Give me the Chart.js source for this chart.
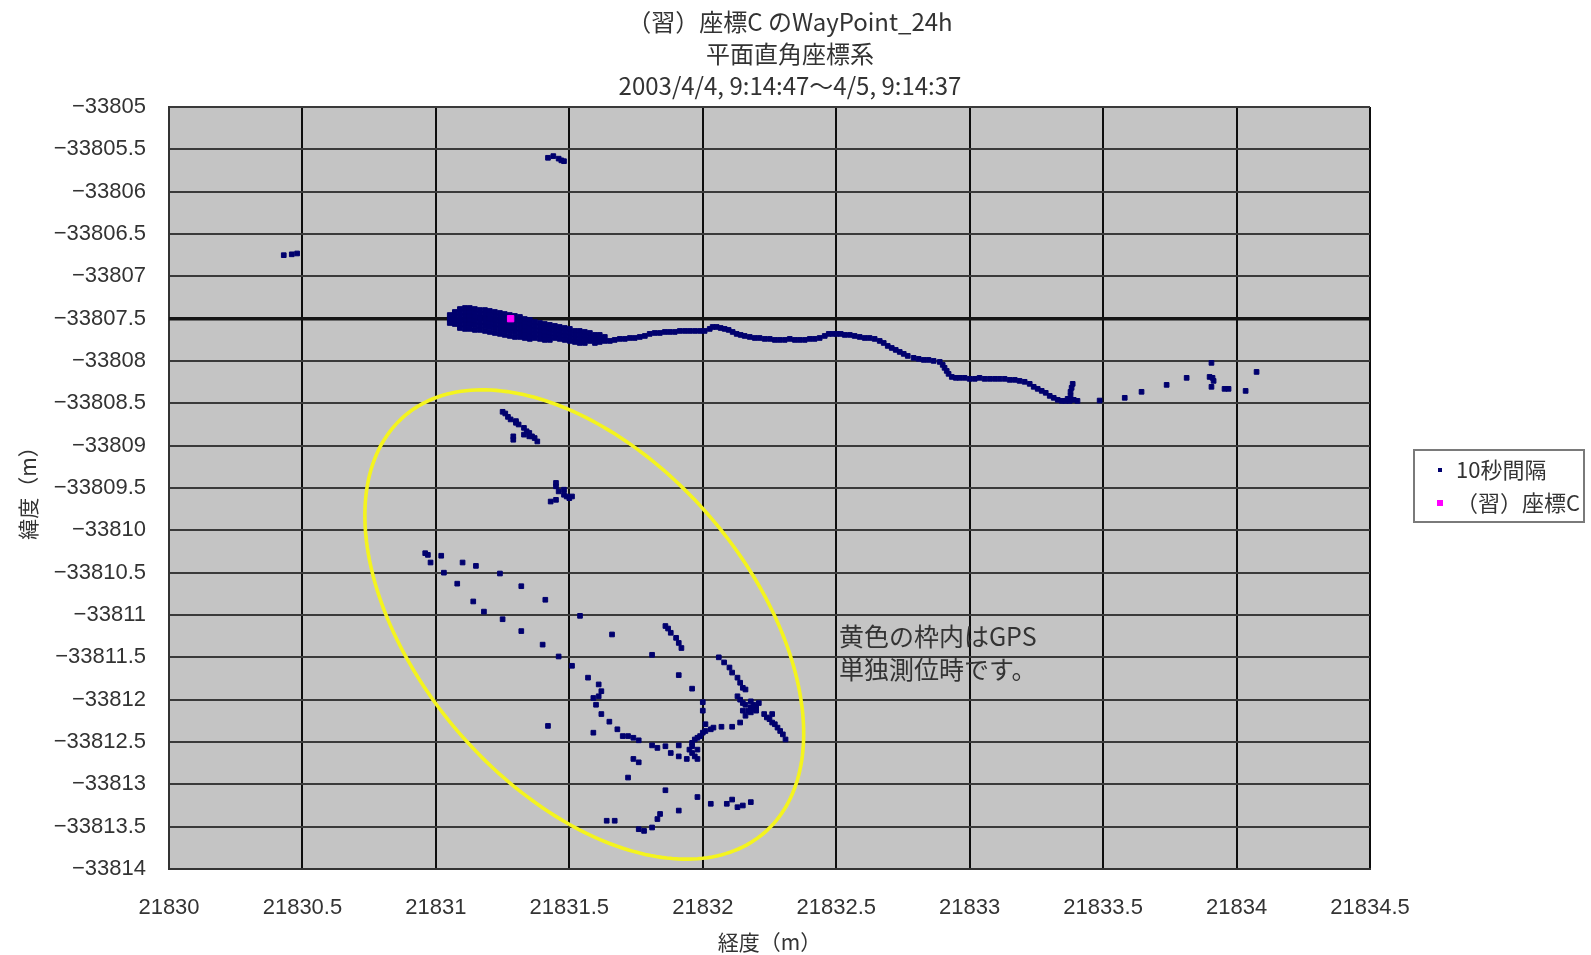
<!DOCTYPE html>
<html lang="ja">
<head>
<meta charset="utf-8">
<title>（習）座標C のWayPoint_24h</title>
<script src="https://cdn.jsdelivr.net/npm/chart.js@4.4.1/dist/chart.umd.min.js"></script>
<style>
  html, body { margin: 0; padding: 0; background: #ffffff; }
  canvas { display: block; }
</style>
</head>
<body>
<canvas id="wp" width="1591" height="955"></canvas>
<script>
// ---- chart text ----
const titleLines = ['（習）座標C のWayPoint_24h', '平面直角座標系', '2003/4/4, 9:14:47～4/5, 9:14:37'];
const xAxisTitle = '経度（m）';
const yAxisTitle = '緯度（m）';
const trackLabel = '10秒間隔';
const pointLabel = '（習）座標C';
const noteLines = ['黄色の枠内はGPS', '単独測位時です。'];

// ---- tick values ----
const xTickValues = [21830, 21830.5, 21831, 21831.5, 21832, 21832.5, 21833, 21833.5, 21834, 21834.5];
const yTickValues = [-33805, -33805.5, -33806, -33806.5, -33807, -33807.5, -33808, -33808.5, -33809, -33809.5,
  -33810, -33810.5, -33811, -33811.5, -33812, -33812.5, -33813, -33813.5, -33814];

// ---- surveyed point (習)座標C and its northing line ----
const controlPoint = [21831.28, -33807.50];
const referenceNorthing = -33807.5;

// ---- 10 s fixes: dense cluster around the control point ----
const clusterFixes = [
  [21831.052,-33807.457],[21831.052,-33807.504],[21831.052,-33807.551],
  [21831.071,-33807.421],[21831.071,-33807.468],[21831.071,-33807.515],[21831.071,-33807.563],
  [21831.090,-33807.386],[21831.090,-33807.433],[21831.090,-33807.480],[21831.090,-33807.527],[21831.090,-33807.574],[21831.090,-33807.610],
  [21831.109,-33807.374],[21831.109,-33807.421],[21831.109,-33807.468],[21831.109,-33807.515],[21831.109,-33807.563],[21831.109,-33807.621],
  [21831.127,-33807.374],[21831.127,-33807.421],[21831.127,-33807.468],[21831.127,-33807.515],[21831.127,-33807.563],[21831.127,-33807.621],
  [21831.146,-33807.386],[21831.146,-33807.433],[21831.146,-33807.480],[21831.146,-33807.527],[21831.146,-33807.574],[21831.146,-33807.633],
  [21831.165,-33807.398],[21831.165,-33807.445],[21831.165,-33807.492],[21831.165,-33807.539],[21831.165,-33807.586],[21831.165,-33807.633],
  [21831.184,-33807.398],[21831.184,-33807.445],[21831.184,-33807.492],[21831.184,-33807.539],[21831.184,-33807.586],[21831.184,-33807.645],
  [21831.202,-33807.409],[21831.202,-33807.457],[21831.202,-33807.504],[21831.202,-33807.551],[21831.202,-33807.598],[21831.202,-33807.657],
  [21831.221,-33807.421],[21831.221,-33807.468],[21831.221,-33807.515],[21831.221,-33807.563],[21831.221,-33807.610],[21831.221,-33807.669],
  [21831.240,-33807.433],[21831.240,-33807.480],[21831.240,-33807.527],[21831.240,-33807.574],[21831.240,-33807.621],[21831.240,-33807.680],
  [21831.258,-33807.445],[21831.258,-33807.492],[21831.258,-33807.539],[21831.258,-33807.586],[21831.258,-33807.633],[21831.258,-33807.692],
  [21831.277,-33807.457],[21831.277,-33807.504],[21831.277,-33807.551],[21831.277,-33807.598],[21831.277,-33807.645],[21831.277,-33807.704],
  [21831.296,-33807.468],[21831.296,-33807.515],[21831.296,-33807.563],[21831.296,-33807.610],[21831.296,-33807.657],[21831.296,-33807.716],
  [21831.315,-33807.480],[21831.315,-33807.527],[21831.315,-33807.574],[21831.315,-33807.621],[21831.315,-33807.669],[21831.315,-33807.716],
  [21831.333,-33807.504],[21831.333,-33807.551],[21831.333,-33807.598],[21831.333,-33807.645],[21831.333,-33807.692],[21831.333,-33807.728],
  [21831.352,-33807.515],[21831.352,-33807.563],[21831.352,-33807.610],[21831.352,-33807.657],[21831.352,-33807.704],[21831.352,-33807.739],
  [21831.371,-33807.539],[21831.371,-33807.586],[21831.371,-33807.633],[21831.371,-33807.680],[21831.371,-33807.728],
  [21831.390,-33807.551],[21831.390,-33807.598],[21831.390,-33807.645],[21831.390,-33807.692],[21831.390,-33807.739],
  [21831.408,-33807.563],[21831.408,-33807.610],[21831.408,-33807.657],[21831.408,-33807.704],[21831.408,-33807.751],
  [21831.427,-33807.574],[21831.427,-33807.621],[21831.427,-33807.669],[21831.427,-33807.716],[21831.427,-33807.751],
  [21831.446,-33807.586],[21831.446,-33807.633],[21831.446,-33807.680],[21831.446,-33807.728],
  [21831.464,-33807.598],[21831.464,-33807.645],[21831.464,-33807.692],[21831.464,-33807.739],
  [21831.483,-33807.610],[21831.483,-33807.657],[21831.483,-33807.704],[21831.483,-33807.751],
  [21831.502,-33807.621],[21831.502,-33807.669],[21831.502,-33807.716],[21831.502,-33807.763],
  [21831.521,-33807.645],[21831.521,-33807.692],[21831.521,-33807.739],[21831.521,-33807.775],
  [21831.539,-33807.645],[21831.539,-33807.692],[21831.539,-33807.739],[21831.539,-33807.787],
  [21831.558,-33807.657],[21831.558,-33807.704],[21831.558,-33807.751],[21831.558,-33807.787],
  [21831.577,-33807.669],[21831.577,-33807.716],[21831.577,-33807.763],
  [21831.596,-33807.692],[21831.596,-33807.739],[21831.596,-33807.787],
  [21831.614,-33807.692],[21831.614,-33807.739],[21831.614,-33807.775],
  [21831.633,-33807.716],[21831.633,-33807.763]
];

// ---- 10 s fixes: drift eastward after the cluster ----
const driftFixes = [
  [21831.652,-33807.763],[21831.670,-33807.751],[21831.689,-33807.739],[21831.708,-33807.739],[21831.727,-33807.728],
  [21831.745,-33807.728],[21831.764,-33807.716],[21831.783,-33807.704],[21831.801,-33807.680],[21831.820,-33807.669],
  [21831.839,-33807.669],[21831.858,-33807.657],[21831.876,-33807.657],[21831.895,-33807.657],[21831.914,-33807.645],
  [21831.933,-33807.645],[21831.951,-33807.645],[21831.970,-33807.645],[21831.989,-33807.645],[21832.007,-33807.645],
  [21832.026,-33807.621],[21832.037,-33807.598],[21832.052,-33807.598],[21832.067,-33807.610],[21832.082,-33807.621],
  [21832.097,-33807.633],[21832.112,-33807.657],[21832.127,-33807.680],[21832.142,-33807.692],[21832.157,-33807.704],
  [21832.176,-33807.716],[21832.195,-33807.728],[21832.213,-33807.728],[21832.232,-33807.739],[21832.251,-33807.739],
  [21832.270,-33807.751],[21832.288,-33807.751],[21832.307,-33807.751],[21832.326,-33807.739],[21832.345,-33807.751],
  [21832.363,-33807.751],[21832.382,-33807.751],[21832.401,-33807.739],[21832.419,-33807.739],[21832.438,-33807.728],
  [21832.457,-33807.704],[21832.472,-33807.680],[21832.487,-33807.680],[21832.502,-33807.680],[21832.517,-33807.680],
  [21832.532,-33807.692],[21832.551,-33807.692],[21832.569,-33807.704],[21832.588,-33807.716],[21832.607,-33807.728],
  [21832.625,-33807.728],[21832.644,-33807.739],[21832.663,-33807.763],[21832.678,-33807.787],[21832.693,-33807.822],
  [21832.708,-33807.846],[21832.723,-33807.869],[21832.738,-33807.893],[21832.753,-33807.916],[21832.768,-33807.940],
  [21832.790,-33807.963],[21832.809,-33807.975],[21832.828,-33807.987],[21832.846,-33807.987],[21832.865,-33807.999],
  [21832.888,-33808.011],[21832.899,-33808.046],[21832.906,-33808.081],[21832.914,-33808.117],[21832.921,-33808.152],
  [21832.933,-33808.188],[21832.948,-33808.199],[21832.963,-33808.199],[21832.981,-33808.199],[21833.000,-33808.211],
  [21833.019,-33808.211],[21833.037,-33808.199],[21833.056,-33808.211],[21833.075,-33808.211],[21833.094,-33808.211],
  [21833.112,-33808.211],[21833.131,-33808.211],[21833.150,-33808.223],[21833.169,-33808.223],[21833.187,-33808.235],
  [21833.206,-33808.246],[21833.225,-33808.270],[21833.240,-33808.305],[21833.255,-33808.329],[21833.270,-33808.353],
  [21833.285,-33808.376],[21833.300,-33808.412],[21833.315,-33808.435],[21833.330,-33808.459],[21833.345,-33808.471],
  [21833.360,-33808.471],[21833.375,-33808.471],[21833.390,-33808.459],[21833.404,-33808.471],[21833.378,-33808.412],
  [21833.378,-33808.364],[21833.382,-33808.317],[21833.386,-33808.270],[21833.367,-33808.447],
  [21833.487,-33808.467],[21833.581,-33808.435],[21833.644,-33808.364],[21833.738,-33808.282],[21833.813,-33808.199],
  [21833.906,-33808.022],[21833.899,-33808.188],[21833.910,-33808.199],[21833.914,-33808.235],[21833.906,-33808.305],
  [21833.955,-33808.329],[21833.970,-33808.329],[21834.034,-33808.353],[21834.075,-33808.129]
];

// ---- 10 s fixes: isolated points in the upper part ----
const strayFixes = [
  [21831.42,-33805.60],[21831.44,-33805.58],[21831.46,-33805.61],[21831.47,-33805.63],[21831.48,-33805.64],
  [21830.43,-33806.75],[21830.46,-33806.74],[21830.48,-33806.73]
];

// ---- 10 s fixes: stand-alone GPS positioning ----
const standaloneFixes = [
  [21831.25,-33808.60],[21831.26,-33808.62],[21831.27,-33808.66],[21831.28,-33808.69],[21831.30,-33808.71],
  [21831.30,-33808.73],[21831.31,-33808.75],[21831.33,-33808.79],[21831.34,-33808.83],[21831.35,-33808.85],
  [21831.36,-33808.89],[21831.37,-33808.91],[21831.38,-33808.95],[21831.35,-33808.89],[21831.33,-33808.87],
  [21831.29,-33808.89],[21831.29,-33808.93],
  [21831.45,-33809.44],[21831.45,-33809.48],[21831.46,-33809.54],[21831.48,-33809.58],[21831.49,-33809.60],
  [21831.50,-33809.62],[21831.51,-33809.60],[21831.45,-33809.64],[21831.43,-33809.66],[21831.48,-33809.52],
  [21830.96,-33810.27],[21830.97,-33810.29],[21830.98,-33810.38],[21831.02,-33810.30],[21831.03,-33810.50],
  [21831.10,-33810.38],[21831.15,-33810.42],[21831.24,-33810.51],[21831.08,-33810.63],[21831.32,-33810.66],
  [21831.14,-33810.84],[21831.18,-33810.96],[21831.41,-33810.82],[21831.25,-33811.05],[21831.32,-33811.19],
  [21831.40,-33811.35],[21831.46,-33811.49],[21831.54,-33811.01],[21831.51,-33811.60],[21831.57,-33811.74],
  [21831.61,-33811.82],[21831.62,-33811.90],[21831.61,-33811.96],[21831.59,-33811.98],[21831.60,-33812.06],
  [21831.62,-33812.17],[21831.65,-33812.26],[21831.68,-33812.35],[21831.70,-33812.43],[21831.72,-33812.43],
  [21831.74,-33812.45],[21831.76,-33812.48],[21831.81,-33812.54],[21831.83,-33812.57],[21831.86,-33812.55],
  [21831.88,-33812.63],[21831.91,-33812.67],[21831.94,-33812.70],[21831.91,-33812.54],[21831.66,-33811.23],
  [21831.81,-33811.47],[21831.91,-33811.71],[21831.96,-33811.87],[21832.00,-33812.03],[21832.00,-33812.13],
  [21832.01,-33812.29],[21832.03,-33812.35],[21832.04,-33812.33],[21832.07,-33812.32],[21832.11,-33812.32],
  [21832.14,-33812.27],[21831.42,-33812.31],[21831.59,-33812.39],[21831.74,-33812.70],[21831.76,-33812.74],
  [21831.72,-33812.92],[21831.86,-33813.07],[21831.84,-33813.35],[21831.83,-33813.41],[21831.81,-33813.51],
  [21831.76,-33813.53],[21831.78,-33813.55],[21831.64,-33813.43],[21831.67,-33813.43],[21831.91,-33813.31],
  [21831.98,-33813.15],[21832.03,-33813.23],[21832.09,-33813.23],[21832.11,-33813.18],[21832.13,-33813.27],
  [21832.15,-33813.25],[21832.18,-33813.21],
  [21831.86,-33811.13],[21831.87,-33811.16],[21831.88,-33811.21],[21831.90,-33811.27],[21831.91,-33811.33],
  [21831.92,-33811.39],
  [21831.96,-33812.55],[21831.96,-33812.51],[21831.97,-33812.47],[21831.98,-33812.59],[21831.97,-33812.67],
  [21831.98,-33812.70],[21831.98,-33812.45],[21831.99,-33812.43],[21832.00,-33812.39],[21832.01,-33812.37],
  [21831.95,-33812.59],[21831.96,-33812.63],
  [21832.06,-33811.50],[21832.08,-33811.56],[21832.10,-33811.62],[21832.11,-33811.68],[21832.13,-33811.74],
  [21832.14,-33811.80],[21832.15,-33811.86],[21832.16,-33811.88],[21832.13,-33811.96],[21832.14,-33812.00],
  [21832.15,-33812.04],[21832.16,-33812.06],[21832.18,-33812.09],[21832.19,-33812.11],[21832.20,-33812.08],
  [21832.21,-33812.04],[21832.17,-33812.13],[21832.18,-33812.15],[21832.20,-33812.13],[21832.23,-33812.17],
  [21832.24,-33812.21],[21832.25,-33812.23],[21832.26,-33812.27],[21832.27,-33812.29],[21832.28,-33812.33],
  [21832.29,-33812.37],[21832.30,-33812.41],[21832.31,-33812.47],[21832.15,-33812.13],[21832.16,-33812.19],
  [21832.19,-33812.06],[21832.18,-33812.02],[21832.26,-33812.17]
];

// ---- outline around the stand-alone fixes: centre and two conjugate semi-axes (data units) ----
const outlineCenter = [21831.556, -33811.112];
const outlineAxisA = [0.6745, -2.460];
const outlineAxisB = [-0.470, -1.277];
// where the note starts (left edge of first line)
const notePosition = [21832.51, -33811.25];

// ---------------------------------------------------------------
const toXY = ([x, y]) => ({ x, y });
const trackPoints = [...clusterFixes, ...driftFixes, ...strayFixes, ...standaloneFixes].map(toXY);

const CJK = "'Noto Sans CJK JP', 'Noto Sans', sans-serif";
const LATIN = "'Liberation Sans', Arial, sans-serif";
const TEXT = '#333333';
const fmt = v => String(v).replace('-', '\u2212');

// three-line heading, centred over the chart and legend block
const heading = {
  id: 'heading',
  afterDraw(chart) {
    const { ctx } = chart;
    ctx.save();
    ctx.fillStyle = TEXT;
    ctx.font = `24px ${CJK}`;
    ctx.textAlign = 'center';
    ctx.textBaseline = 'middle';
    titleLines.forEach((line, i) => ctx.fillText(line, 790, 22 + i * 32));
    ctx.restore();
  }
};

const plotBackground = {
  id: 'plotBackground',
  beforeDraw(chart) {
    const { ctx, chartArea: a } = chart;
    ctx.save();
    ctx.fillStyle = '#c4c4c4';
    ctx.fillRect(a.left, a.top, a.right - a.left, a.bottom - a.top);
    ctx.restore();
  }
};

const outlineAndNote = {
  id: 'outlineAndNote',
  afterDatasetsDraw(chart) {
    const { ctx, scales: { x, y } } = chart;
    ctx.save();
    ctx.beginPath();
    const n = 240;
    for (let i = 0; i <= n; i++) {
      const t = (i / n) * Math.PI * 2;
      const vx = outlineCenter[0] + Math.cos(t) * outlineAxisA[0] + Math.sin(t) * outlineAxisB[0];
      const vy = outlineCenter[1] + Math.cos(t) * outlineAxisA[1] + Math.sin(t) * outlineAxisB[1];
      const px = x.getPixelForValue(vx), py = y.getPixelForValue(vy);
      if (i === 0) ctx.moveTo(px, py); else ctx.lineTo(px, py);
    }
    ctx.closePath();
    ctx.strokeStyle = '#f4f41e';
    ctx.lineWidth = 3.6;
    ctx.stroke();

    ctx.fillStyle = TEXT;
    ctx.font = `25px ${CJK}`;
    ctx.textAlign = 'left';
    ctx.textBaseline = 'middle';
    const nx = x.getPixelForValue(notePosition[0]);
    const ny = y.getPixelForValue(notePosition[1]);
    noteLines.forEach((line, i) => ctx.fillText(line, nx, ny + i * 33));
    ctx.restore();
  }
};

const boxedLegend = {
  id: 'boxedLegend',
  afterDraw(chart) {
    const { ctx } = chart;
    const items = chart.data.datasets.filter(d => d.legendRank !== undefined)
      .sort((a, b) => a.legendRank - b.legendRank);
    const left = 1414, top = 450, w = 170, h = 72, rowH = 33;
    ctx.save();
    ctx.fillStyle = '#ffffff';
    ctx.fillRect(left, top, w, h);
    ctx.strokeStyle = '#7a7a7a';
    ctx.lineWidth = 2;
    ctx.strokeRect(left, top, w, h);
    ctx.font = `22px ${CJK}`;
    ctx.textAlign = 'left';
    ctx.textBaseline = 'middle';
    items.forEach((d, i) => {
      const cy = top + 20 + i * rowH;
      const s = d.legendMarker;
      ctx.fillStyle = d.backgroundColor;
      ctx.fillRect(1440 - s / 2, cy - s / 2, s, s);
      ctx.fillStyle = TEXT;
      ctx.fillText(d.label, 1456, cy);
    });
    ctx.restore();
  }
};

new Chart(document.getElementById('wp'), {
  type: 'scatter',
  data: {
    datasets: [
      {
        label: pointLabel,
        legendRank: 1,
        legendMarker: 6,
        data: [toXY(controlPoint)],
        backgroundColor: '#ff00ff',
        borderColor: '#ff00ff',
        pointStyle: 'rect',
        pointRadius: 4.5,
        borderWidth: 1,
        order: 0
      },
      {
        label: trackLabel,
        legendRank: 0,
        legendMarker: 4,
        data: trackPoints,
        backgroundColor: '#00006e',
        borderColor: '#00006e',
        pointStyle: 'rect',
        pointRadius: 3.3,
        borderWidth: 1,
        order: 1
      },
      {
        label: 'northing',
        type: 'line',
        data: [{ x: xTickValues[0], y: referenceNorthing }, { x: xTickValues[xTickValues.length - 1], y: referenceNorthing }],
        borderColor: '#151515',
        borderWidth: 3.5,
        pointRadius: 0,
        showLine: true,
        fill: false,
        order: 2
      }
    ]
  },
  options: {
    responsive: false,
    animation: false,
    events: [],
    layout: { padding: { left: 0, right: 221, top: 107, bottom: 0 } },
    plugins: {
      legend: { display: false },
      tooltip: { enabled: false },
      title: { display: false }
    },
    scales: {
      x: {
        type: 'linear',
        min: xTickValues[0],
        max: xTickValues[xTickValues.length - 1],
        afterBuildTicks: s => { s.ticks = xTickValues.map(value => ({ value })); },
        afterFit: s => { s.height = 86; },
        grid: { color: '#0d0d0d', lineWidth: 2, drawTicks: false },
        border: { display: true, color: '#333333', width: 2 },
        ticks: {
          padding: 26,
          color: TEXT,
          font: { family: LATIN, size: 22 },
          maxRotation: 0,
          autoSkip: false,
          callback: v => fmt(v)
        },
        title: {
          display: true,
          text: xAxisTitle,
          color: TEXT,
          font: { family: CJK, size: 21 },
          padding: { top: 0, bottom: 0 }
        }
      },
      y: {
        type: 'linear',
        min: yTickValues[yTickValues.length - 1],
        max: yTickValues[0],
        afterBuildTicks: s => { s.ticks = yTickValues.slice().reverse().map(value => ({ value })); },
        afterFit: s => { s.width = 169; },
        grid: { color: '#3a3a3a', lineWidth: 2, drawTicks: false },
        border: { display: true, color: '#333333', width: 2 },
        ticks: {
          padding: 23,
          color: TEXT,
          font: { family: LATIN, size: 22 },
          autoSkip: false,
          callback: v => fmt(v)
        },
        title: {
          display: true,
          text: yAxisTitle,
          color: TEXT,
          font: { family: CJK, size: 21 },
          padding: { top: 15, bottom: 0 }
        }
      }
    }
  },
  plugins: [plotBackground, outlineAndNote, boxedLegend, heading]
});
</script>
</body>
</html>
